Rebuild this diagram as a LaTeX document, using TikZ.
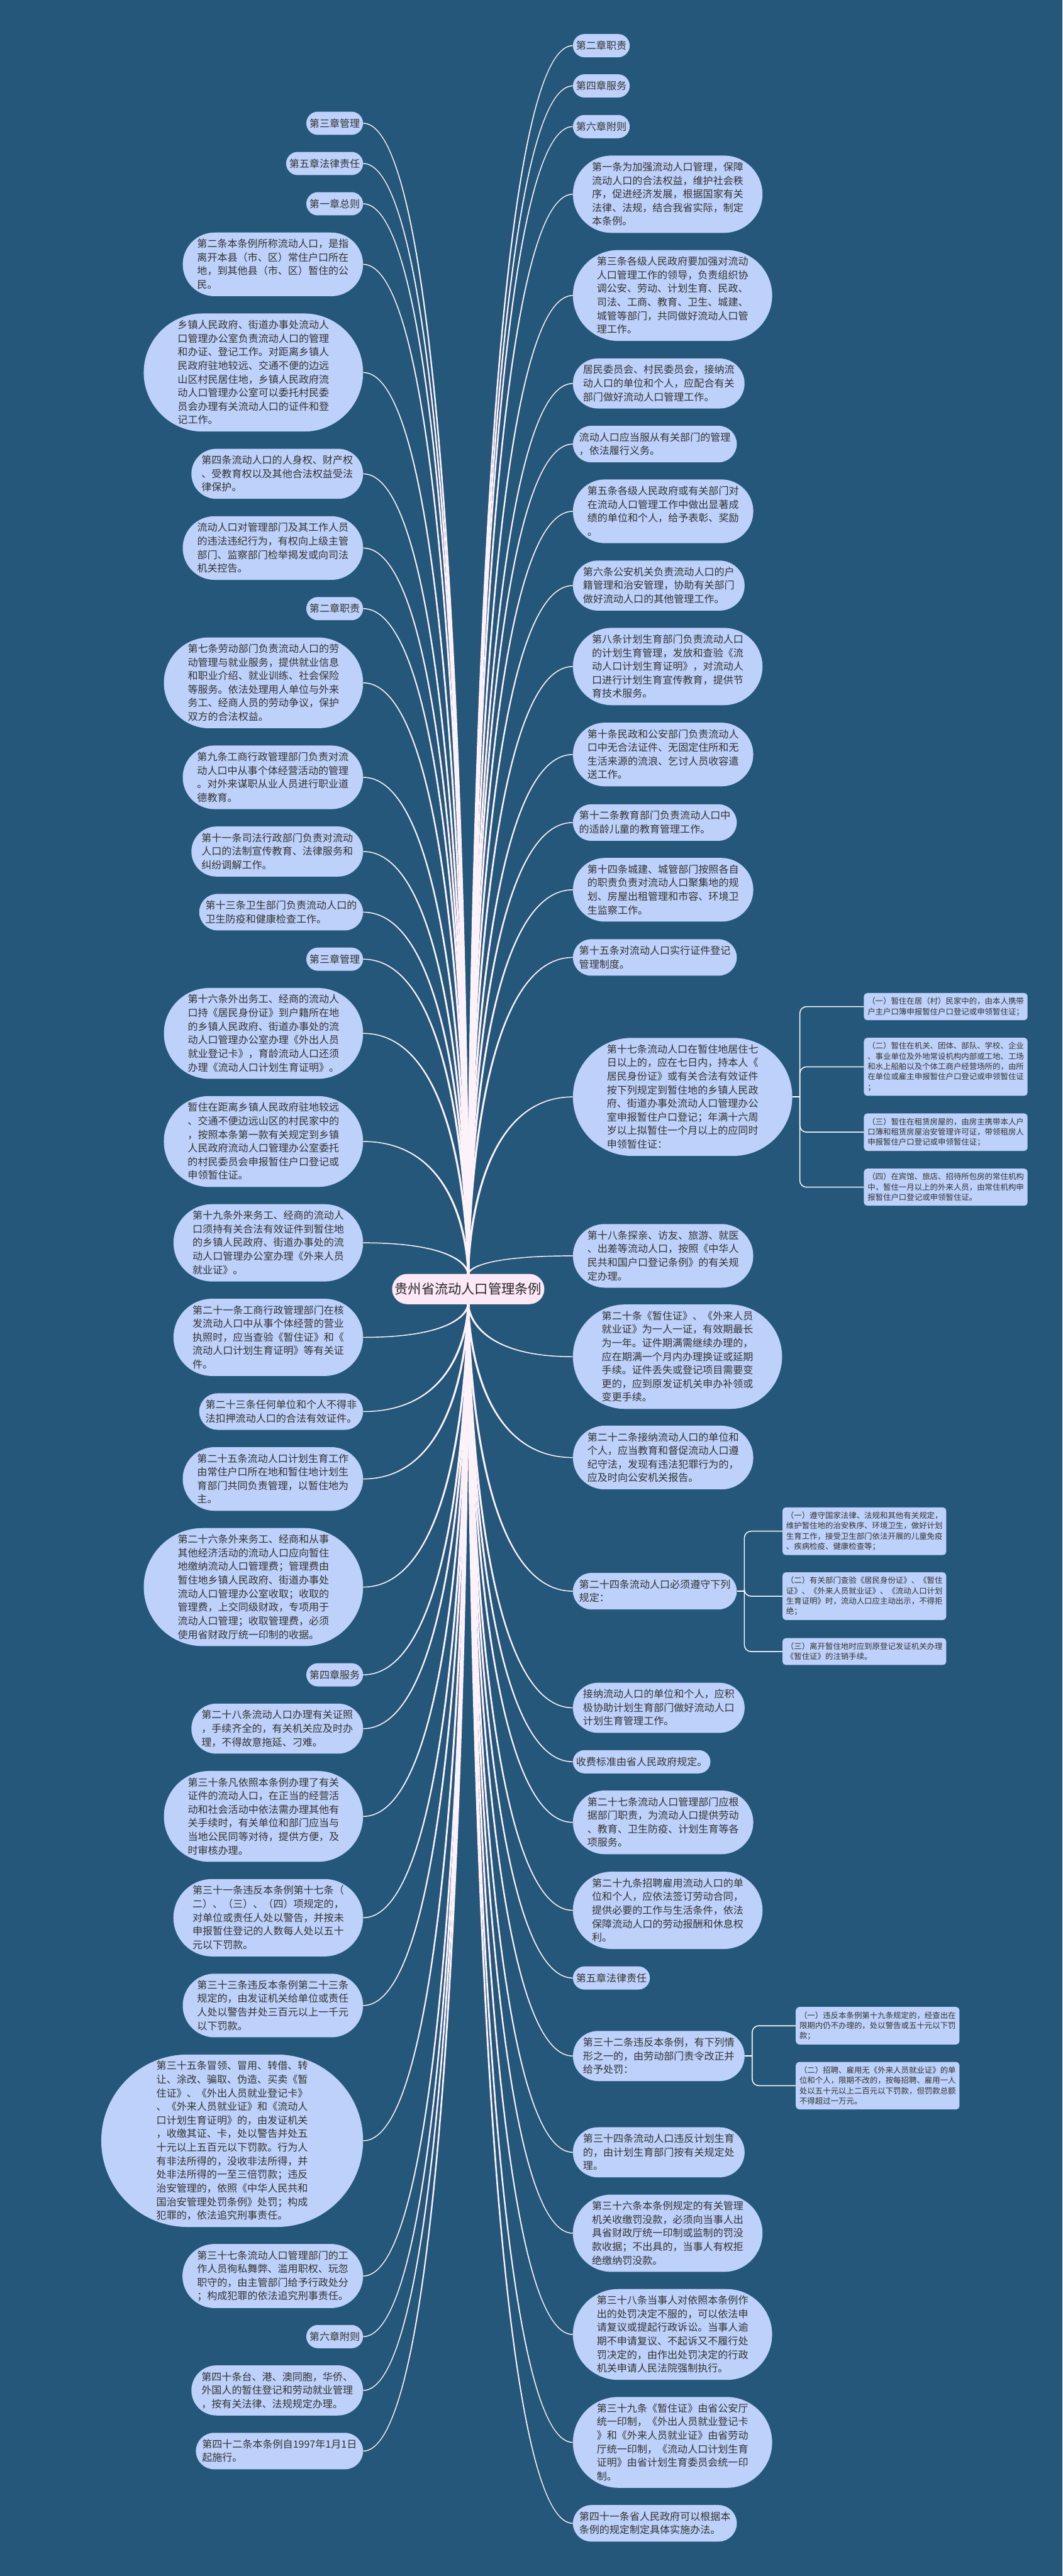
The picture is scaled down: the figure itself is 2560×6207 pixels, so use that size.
\documentclass[tikz,border=0pt]{standalone}
\usepackage{fontspec}
\setmainfont{Noto Sans CJK SC}
\usetikzlibrary{shapes.misc,calc}
\definecolor{bgblue}{HTML}{245779}
\definecolor{leaffill}{HTML}{BDD1FA}
\definecolor{rootfill}{HTML}{FCE8F6}
\definecolor{linkpink}{HTML}{FEF2FA}
\definecolor{inktext}{HTML}{333333}
\newcommand{\capstrut}{\rule{0pt}{0.88em}}
\newcommand{\basestrut}{\rule[-0.12em]{0pt}{0.12em}}
% rama afilada: #1 raiz, #2 extremo, #3 lado (-1/1), #4 arriba/abajo (1/-1)
\newcommand{\branch}[4]{%
  \coordinate (bend) at (#1 |- #2);
  \fill[linkfill] ($(#1)+({2.6*(#3)},0)$) .. controls ($(#1)+({2.6*(#3)},0)$) and ($(bend)+({2.6*(#3)},{1.1*(#4)})$) .. ($(#2)+(0,{1.1*(#4)})$)
    -- ($(#2)+(0,{-1.1*(#4)})$) .. controls ($(bend)+({-2.6*(#3)},{-1.1*(#4)})$) and ($(#1)+({-2.6*(#3)},0)$) .. ($(#1)+({-2.6*(#3)},0)$) -- cycle;}
\begin{document}
\begin{tikzpicture}[
  x=0.25mm, y=-0.25mm,
  leaf/.style={rounded rectangle, fill=leaffill, text=inktext, align=left,
    inner xsep=1.2mm, inner ysep=3.96mm, font=\fontsize{17.3pt}{23.3pt}\selectfont,
    execute at begin node=\capstrut, execute at end node=\basestrut},
  lleaf/.style={leaf, anchor=east},
  rleaf/.style={leaf, anchor=west},
  subleaf/.style={rectangle, rounded corners=2mm, fill=leaffill, text=inktext, align=left,
    anchor=west, inner xsep=2.2mm, inner ysep=2.7mm, font=\fontsize{13.4pt}{17.6pt}\selectfont,
    execute at begin node=\capstrut, execute at end node=\basestrut},
  rootnode/.style={rounded rectangle, fill=rootfill, text=black!85, inner xsep=0.8mm,
    inner ysep=5.4mm, font=\fontsize{22.9pt}{28pt}\selectfont},
  linkfill/.style={fill=linkpink},
  sublink/.style={draw=white, line width=1.6pt, rounded corners=4mm}
]
  \useasboundingbox (0,0) rectangle (2560,6207);
  \fill[bgblue] (0,0) rectangle (2560,6207);

  % Raiz
  \node[rootnode] (root) at (1128,3106) {贵州省流动人口管理条例};

  % Rama izquierda
  \node[lleaf] (l1) at (875,297) {第三章管理};
  \node[lleaf] (l2) at (875,394) {第五章法律责任};
  \node[lleaf] (l3) at (875,491) {第一章总则};
  \node[lleaf] (l4) at (875,637) {第二条本条例所称流动人口，是指\\离开本县（市、区）常住户口所在\\地，到其他县（市、区）暂住的公\\民。};
  \node[lleaf] (l5) at (875,897.6) {乡镇人民政府、街道办事处流动人\\口管理办公室负责流动人口的管理\\和办证、登记工作。对距离乡镇人\\民政府驻地较远、交通不便的边远\\山区村民居住地，乡镇人民政府流\\动人口管理办公室可以委托村民委\\员会办理有关流动人口的证件和登\\记工作。};
  \node[lleaf] (l6) at (875,1141.7) {第四条流动人口的人身权、财产权\\、受教育权以及其他合法权益受法\\律保护。};
  \node[lleaf] (l7) at (875,1320.5) {流动人口对管理部门及其工作人员\\的违法违纪行为，有权向上级主管\\部门、监察部门检举揭发或向司法\\机关控告。};
  \node[lleaf] (l8) at (875,1466.5) {第二章职责};
  \node[lleaf] (l9) at (875,1645.3) {第七条劳动部门负责流动人口的劳\\动管理与就业服务，提供就业信息\\和职业介绍、就业训练、社会保险\\等服务。依法处理用人单位与外来\\务工、经商人员的劳动争议，保护\\双方的合法权益。};
  \node[lleaf] (l10) at (875,1873) {第九条工商行政管理部门负责对流\\动人口中从事个体经营活动的管理\\。对外来谋职从业人员进行职业道\\德教育。};
  \node[lleaf] (l11) at (875,2051.8) {第十一条司法行政部门负责对流动\\人口的法制宣传教育、法律服务和\\纠纷调解工作。};
  \node[lleaf] (l12) at (875,2197.9) {第十三条卫生部门负责流动人口的\\卫生防疫和健康检查工作。};
  \node[lleaf] (l13) at (875,2311.2) {第三章管理};
  \node[lleaf] (l14) at (875,2490) {第十六条外出务工、经商的流动人\\口持《居民身份证》到户籍所在地\\的乡镇人民政府、街道办事处的流\\动人口管理办公室办理《外出人员\\就业登记卡》，育龄流动人口还须\\办理《流动人口计划生育证明》。};
  \node[lleaf] (l15) at (875,2750.5) {暂住在距离乡镇人民政府驻地较远\\、交通不便边远山区的村民家中的\\，按照本条第一款有关规定到乡镇\\人民政府流动人口管理办公室委托\\的村民委员会申报暂住户口登记或\\申领暂住证。};
  \node[lleaf] (l16) at (875,2994.6) {第十九条外来务工、经商的流动人\\口须持有关合法有效证件到暂住地\\的乡镇人民政府、街道办事处的流\\动人口管理办公室办理《外来人员\\就业证》。};
  \node[lleaf] (l17) at (875,3222.4) {第二十一条工商行政管理部门在核\\发流动人口中从事个体经营的营业\\执照时，应当查验《暂住证》和《\\流动人口计划生育证明》等有关证\\件。};
  \node[lleaf] (l18) at (875,3401.2) {第二十三条任何单位和个人不得非\\法扣押流动人口的合法有效证件。};
  \node[lleaf] (l19) at (875,3563.6) {第二十五条流动人口计划生育工作\\由常住户口所在地和暂住地计划生\\育部门共同负责管理，以暂住地为\\主。};
  \node[lleaf] (l20) at (875,3824.1) {第二十六条外来务工、经商和从事\\其他经济活动的流动人口应向暂住\\地缴纳流动人口管理费；管理费由\\暂住地乡镇人民政府、街道办事处\\流动人口管理办公室收取；收取的\\管理费，上交同级财政，专项用于\\流动人口管理；收取管理费，必须\\使用省财政厅统一印制的收据。};
  \node[lleaf] (l21) at (875,4035.5) {第四章服务};
  \node[lleaf] (l22) at (875,4165.2) {第二十八条流动人口办理有关证照\\，手续齐全的，有关机关应及时办\\理，不得故意拖延、刁难。};
  \node[lleaf] (l23) at (875,4376.7) {第三十条凡依照本条例办理了有关\\证件的流动人口，在正当的经营活\\动和社会活动中依法需办理其他有\\关手续时，有关单位和部门应当与\\当地公民同等对待，提供方便，及\\时审核办理。};
  \node[lleaf] (l24) at (875,4620.8) {第三十一条违反本条例第十七条（\\二）、（三）、（四）项规定的，\\对单位或责任人处以警告，并按未\\申报暂住登记的人数每人处以五十\\元以下罚款。};
  \node[lleaf] (l25) at (875,4832.3) {第三十三条违反本条例第二十三条\\规定的，由发证机关给单位或责任\\人处以警告并处三百元以上一千元\\以下罚款。};
  \node[lleaf] (l26) at (875,5158.2) {第三十五条冒领、冒用、转借、转\\让、涂改、骗取、伪造、买卖《暂\\住证》、《外出人员就业登记卡》\\、《外来人员就业证》和《流动人\\口计划生育证明》的，由发证机关\\，收缴其证、卡，处以警告并处五\\十元以上五百元以下罚款。行为人\\有非法所得的，没收非法所得，并\\处非法所得的一至三倍罚款；违反\\治安管理的，依照《中华人民共和\\国治安管理处罚条例》处罚；构成\\犯罪的，依法追究刑事责任。};
  \node[lleaf] (l27) at (875,5484.1) {第三十七条流动人口管理部门的工\\作人员徇私舞弊、滥用职权、玩忽\\职守的，由主管部门给予行政处分\\；构成犯罪的依法追究刑事责任。};
  \node[lleaf] (l28) at (875,5630.1) {第六章附则};
  \node[lleaf] (l29) at (875,5759.8) {第四十条台、港、澳同胞，华侨、\\外国人的暂住登记和劳动就业管理\\，按有关法律、法规规定办理。};
  \node[lleaf] (l30) at (875,5905.9) {第四十二条本条例自1997年1月1日\\起施行。};

  % Rama derecha
  \node[rleaf] (r1) at (1380,110) {第二章职责};
  \node[rleaf] (r2) at (1380,207) {第四章服务};
  \node[rleaf] (r3) at (1380,305) {第六章附则};
  \node[rleaf] (r4) at (1380,468) {第一条为加强流动人口管理，保障\\流动人口的合法权益，维护社会秩\\序，促进经济发展，根据国家有关\\法律、法规，结合我省实际，制定\\本条例。};
  \node[rleaf] (r5) at (1380,712) {第三条各级人民政府要加强对流动\\人口管理工作的领导，负责组织协\\调公安、劳动、计划生育、民政、\\司法、工商、教育、卫生、城建、\\城管等部门，共同做好流动人口管\\理工作。};
  \node[rleaf] (r6) at (1380,924) {居民委员会、村民委员会，接纳流\\动人口的单位和个人，应配合有关\\部门做好流动人口管理工作。};
  \node[rleaf] (r7) at (1380,1070) {流动人口应当服从有关部门的管理\\，依法履行义务。};
  \node[rleaf] (r8) at (1380,1232) {第五条各级人民政府或有关部门对\\在流动人口管理工作中做出显著成\\绩的单位和个人，给予表彰、奖励\\。};
  \node[rleaf] (r9) at (1380,1411) {第六条公安机关负责流动人口的户\\籍管理和治安管理，协助有关部门\\做好流动人口的其他管理工作。};
  \node[rleaf] (r10) at (1380,1606) {第八条计划生育部门负责流动人口\\的计划生育管理，发放和查验《流\\动人口计划生育证明》，对流动人\\口进行计划生育宣传教育，提供节\\育技术服务。};
  \node[rleaf] (r11) at (1380,1818) {第十条民政和公安部门负责流动人\\口中无合法证件、无固定住所和无\\生活来源的流浪、乞讨人员收容遣\\送工作。};
  \node[rleaf] (r12) at (1380,1982) {第十二条教育部门负责流动人口中\\的适龄儿童的教育管理工作。};
  \node[rleaf] (r13) at (1380,2144) {第十四条城建、城管部门按照各自\\的职责负责对流动人口聚集地的规\\划、房屋出租管理和市容、环境卫\\生监察工作。};
  \node[rleaf] (r14) at (1380,2307) {第十五条对流动人口实行证件登记\\管理制度。};
  \node[rleaf] (r15) at (1380,2643) {第十七条流动人口在暂住地居住七\\日以上的，应在七日内，持本人《\\居民身份证》或有关合法有效证件\\按下列规定到暂住地的乡镇人民政\\府、街道办事处流动人口管理办公\\室申报暂住户口登记；年满十六周\\岁以上拟暂住一个月以上的应同时\\申领暂住证：};
  \node[rleaf] (r16) at (1380,3026) {第十八条探亲、访友、旅游、就医\\、出差等流动人口，按照《中华人\\民共和国户口登记条例》的有关规\\定办理。};
  \node[rleaf] (r17) at (1380,3269) {第二十条《暂住证》、《外来人员\\就业证》为一人一证，有效期最长\\为一年。证件期满需继续办理的，\\应在期满一个月内办理换证或延期\\手续。证件丢失或登记项目需要变\\更的，应到原发证机关申办补领或\\变更手续。};
  \node[rleaf] (r18) at (1380,3512) {第二十二条接纳流动人口的单位和\\个人，应当教育和督促流动人口遵\\纪守法，发现有违法犯罪行为的，\\应及时向公安机关报告。};
  \node[rleaf] (r19) at (1380,3834) {第二十四条流动人口必须遵守下列\\规定：};
  \node[rleaf] (r20) at (1380,4115) {接纳流动人口的单位和个人，应积\\极协助计划生育部门做好流动人口\\计划生育管理工作。};
  \node[rleaf] (r21) at (1380,4245) {收费标准由省人民政府规定。};
  \node[rleaf] (r22) at (1380,4391) {第二十七条流动人口管理部门应根\\据部门职责，为流动人口提供劳动\\、教育、卫生防疫、计划生育等各\\项服务。};
  \node[rleaf] (r23) at (1380,4603) {第二十九条招聘雇用流动人口的单\\位和个人，应依法签订劳动合同，\\提供必要的工作与生活条件，依法\\保障流动人口的劳动报酬和休息权\\利。};
  \node[rleaf] (r24) at (1380,4766) {第五章法律责任};
  \node[rleaf] (r25) at (1380,4954) {第三十二条违反本条例，有下列情\\形之一的，由劳动部门责令改正并\\给予处罚：};
  \node[rleaf] (r26) at (1380,5186) {第三十四条流动人口违反计划生育\\的，由计划生育部门按有关规定处\\理。};
  \node[rleaf] (r27) at (1380,5381) {第三十六条本条例规定的有关管理\\机关收缴罚没款，必须向当事人出\\具省财政厅统一印制或监制的罚没\\款收据；不出具的，当事人有权拒\\绝缴纳罚没款。};
  \node[rleaf] (r28) at (1380,5625) {第三十八条当事人对依照本条例作\\出的处罚决定不服的，可以依法申\\请复议或提起行政诉讼。当事人逾\\期不申请复议、不起诉又不履行处\\罚决定的，由作出处罚决定的行政\\机关申请人民法院强制执行。};
  \node[rleaf] (r29) at (1380,5885) {第三十九条《暂住证》由省公安厅\\统一印制，《外出人员就业登记卡\\》和《外来人员就业证》由省劳动\\厅统一印制，《流动人口计划生育\\证明》由省计划生育委员会统一印\\制。};
  \node[rleaf] (r30) at (1380,6080) {第四十一条省人民政府可以根据本\\条例的规定制定具体实施办法。};

  % Subramas
  \node[subleaf] (s1) at (2081,2425.5) {（一）暂住在居（村）民家中的，由本人携带\\户主户口簿申报暂住户口登记或申领暂住证；};
  \node[subleaf] (s2) at (2081,2570.5) {（二）暂住在机关、团体、部队、学校、企业\\、事业单位及外地常设机构内部或工地、工场\\和水上船舶以及个体工商户经营场所的，由所\\在单位或雇主申报暂住户口登记或申领暂住证\\；};
  \node[subleaf] (s3) at (2081,2728) {（三）暂住在租赁房屋的，由房主携带本人户\\口簿和租赁房屋治安管理许可证，带领租房人\\申报暂住户口登记或申领暂住证；};
  \node[subleaf] (s4) at (2081,2860.5) {（四）在宾馆、旅店、招待所包房的常住机构\\中，暂住一月以上的外来人员，由常住机构申\\报暂住户口登记或申领暂住证。};
  \node[subleaf] (t1) at (1885,3689.5) {（一）遵守国家法律、法规和其他有关规定，\\维护暂住地的治安秩序、环境卫生，做好计划\\生育工作，接受卫生部门依法开展的儿童免疫\\、疾病检疫、健康检查等；};
  \node[subleaf] (t2) at (1885,3846) {（二）有关部门查验《居民身份证》、《暂住\\证》、《外来人员就业证》、《流动人口计划\\生育证明》时，流动人口应主动出示，不得拒\\绝；};
  \node[subleaf] (t3) at (1885,3979.5) {（三）离开暂住地时应到原登记发证机关办理\\《暂住证》的注销手续。};
  \node[subleaf] (u1) at (1917,4881) {（一）违反本条例第十九条规定的，经查出在\\限期内仍不办理的，处以警告或五十元以下罚\\款；};
  \node[subleaf] (u2) at (1917,5025.5) {（二）招聘、雇用无《外来人员就业证》的单\\位和个人，限期不改的，按每招聘、雇用一人\\处以五十元以上二百元以下罚款，但罚款总额\\不得超过一万元。};

  % Conexiones
  \foreach \i in {1,...,16} {
    \branch{root.north}{l\i.east}{-1}{1}
    \branch{root.north}{r\i.west}{1}{1}
  }
  \foreach \i in {17,...,30} {
    \branch{root.south}{l\i.east}{-1}{-1}
    \branch{root.south}{r\i.west}{1}{-1}
  }

  % Llaves
  \coordinate (j15) at ($(r15.east)+(18,0)$);
  \coordinate (j19) at ($(r19.east)+(18,0)$);
  \coordinate (j25) at ($(r25.east)+(18,0)$);
  \draw[sublink] (r15.east) -- (j15);
  \draw[sublink] (r19.east) -- (j19);
  \draw[sublink] (r25.east) -- (j25);
  \foreach \s in {s1,s2,s3,s4}
    \draw[sublink] (j15) |- (\s.west);
  \foreach \s in {t1,t2,t3}
    \draw[sublink] (j19) |- (\s.west);
  \foreach \s in {u1,u2}
    \draw[sublink] (j25) |- (\s.west);
\end{tikzpicture}
\end{document}
